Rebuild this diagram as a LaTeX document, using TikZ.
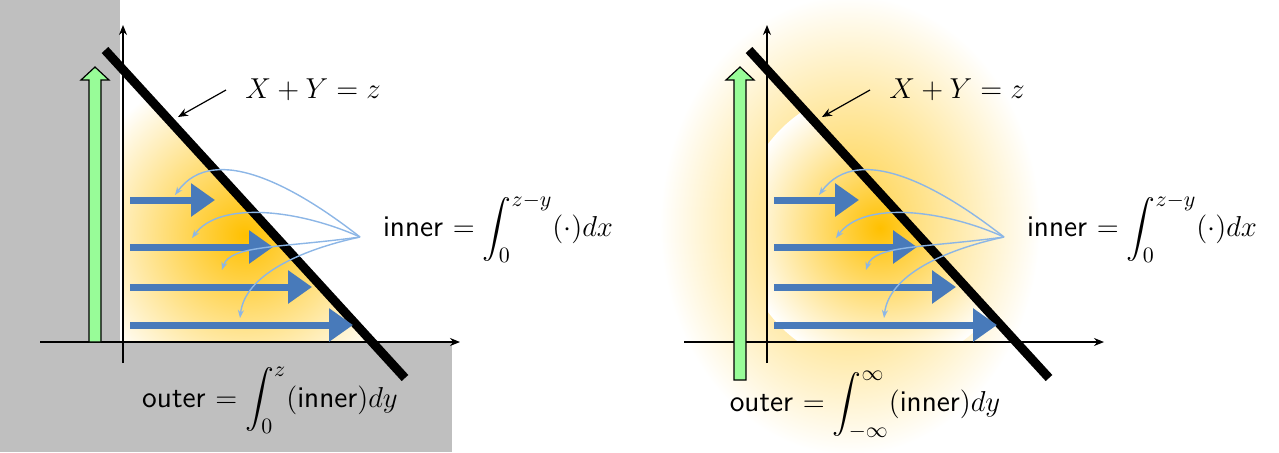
\documentclass[tikz,border=0pt]{standalone}
\usepackage{exscale}
\usetikzlibrary{arrows.meta}
\begin{document}
\begin{tikzpicture}[x=0.5pt,y=-0.5pt,
  lab/.style={font=\fontsize{15}{18}\selectfont\sffamily},
  bluearr/.style={draw=arrowblue,line width=3.5pt,-{Triangle[length=12pt,width=16pt]}},
  thin arr/.style={draw=lightblue,line width=0.7pt,-{Stealth[length=4pt]}},
  axisln/.style={line width=0.6pt,-{Stealth[length=5pt,width=4pt]}},
  bar/.style={line width=4.5pt}]
\definecolor{arrowblue}{RGB}{72,122,186}
\definecolor{lightblue}{RGB}{140,182,230}
\definecolor{gold}{RGB}{255,192,0}
\definecolor{grn}{RGB}{152,252,152}
\definecolor{gry}{RGB}{191,191,191}
\useasboundingbox (0,0) rectangle (1279,452);
% ---------- left panel ----------
\fill[gry] (0,0) rectangle (120,452);
\fill[gry] (0,342) rectangle (452,452);
\begin{scope}
\clip (123,70) -- (123,342) -- (372,342) -- cycle;
\fill[white] (123,70) -- (123,342) -- (372,342) -- cycle;
\shade[inner color=gold,outer color=white] (245,235) circle (85pt);
\end{scope}
\draw[axisln] (123,363) -- (123,25);
\draw[axisln] (40,342) -- (460,342);
\filldraw[fill=grn,line width=0.6pt] (89,342) -- (89,80) -- (81,80) -- (95,67) -- (109,80) -- (101,80) -- (101,342) -- cycle;
\coordinate (Ltop) at (105,50); \coordinate (Lbot) at (405,378);
\draw[bar] (Ltop) -- (Lbot);
\foreach \y/\e in {200/215,247/273,287/312,325/353} \draw[bluearr] (130,\y) -- (\e,\y);
\coordinate (Lhub) at (360,237);
\draw[thin arr] (Lhub) .. controls (300,190) and (215,140) .. (175,195);
\draw[thin arr] (Lhub) .. controls (300,210) and (220,200) .. (192,238);
\draw[thin arr] (Lhub) .. controls (280,248) and (230,245) .. (222,270);
\draw[thin arr] (Lhub) .. controls (300,250) and (245,275) .. (240,318);
\node[lab,anchor=west] (Linner) at (376,228) {inner $= \displaystyle\int_0^{z-y}(\cdot)dx$};
\node[lab] (Llab) at (313,90) {$X+Y=z$};
\coordinate (Lls) at (226,90);
\draw[line width=0.6pt,-{Stealth[length=5pt,width=4pt]}] (Lls) -- (178,117);
\node[lab] (Louter) at (270,400) {outer $= \displaystyle\int_0^{z}(\mbox{inner})dy$};
% ---------- right panel ----------
\shade[inner color=gold!75,outer color=white] (850,225) ellipse (95pt and 115pt);
\begin{scope}
\clip (767,70) -- (767,342) -- (1016,342) -- cycle;
\shade[inner color=gold,outer color=gold!0] (880,228) circle (70pt);
\end{scope}
\draw[axisln] (767,363) -- (767,25);
\draw[axisln] (684,342) -- (1104,342);
\filldraw[fill=grn,line width=0.6pt] (734,380) -- (734,80) -- (726,80) -- (740,67) -- (754,80) -- (746,80) -- (746,380) -- cycle;
\coordinate (Rtop) at (749,50); \coordinate (Rbot) at (1049,378);
\draw[bar] (Rtop) -- (Rbot);
\foreach \y/\e in {200/859,247/917,287/956,325/997} \draw[bluearr] (774,\y) -- (\e,\y);
\coordinate (Rhub) at (1004,237);
\draw[thin arr] (Rhub) .. controls (944,190) and (859,140) .. (819,195);
\draw[thin arr] (Rhub) .. controls (944,210) and (864,200) .. (836,238);
\draw[thin arr] (Rhub) .. controls (924,248) and (874,245) .. (866,270);
\draw[thin arr] (Rhub) .. controls (944,250) and (889,275) .. (884,318);
\node[lab,anchor=west] (Rinner) at (1020,228) {inner $= \displaystyle\int_0^{z-y}(\cdot)dx$};
\node[lab] (Rlab) at (957,90) {$X+Y=z$};
\coordinate (Rls) at (870,90);
\draw[line width=0.6pt,-{Stealth[length=5pt,width=4pt]}] (Rls) -- (822,117);
\node[lab] (Router) at (865,405) {outer $= \displaystyle\int_{-\infty}^{\infty}(\mbox{inner})dy$};
\end{tikzpicture}
\end{document}
